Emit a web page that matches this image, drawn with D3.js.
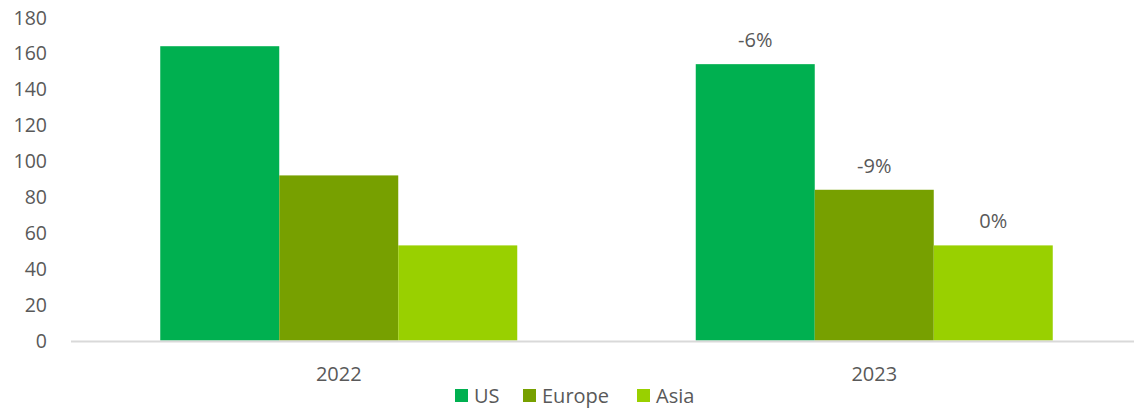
<!DOCTYPE html>
<html>
<head>
<meta charset="utf-8">
<script src="https://cdn.jsdelivr.net/npm/d3@7"></script>
<style>
  body { margin: 0; background: #fff; }
  text { font-family: "Open Sans", sans-serif; fill: #595959; }
</style>
</head>
<body>
<div class="chart"></div>
<script>
// data
const years = ['2022', '2023'];
const regions = ['US', 'Europe', 'Asia'];
const usValues = [164, 154];
const europeValues = [92, 84];
const asiaValues = [53, 53];
const changeLabels = [null, ['-6%', '-9%', '0%']];
const yTicks = [0, 20, 40, 60, 80, 100, 120, 140, 160, 180];
const colors = ['#00b050', '#77a000', '#99d000'];

const series = [usValues, europeValues, asiaValues];

const svg_width = 1134;
const svg_height = 408;
const margin = {top: 17, left: 71, bottom: 67};
const plot_right = 1142; // axis runs past the crop edge

const svg = d3.select('.chart').append('svg')
  .attr('width', svg_width).attr('height', svg_height);

const xScale = d3.scaleBand().domain(years)
  .range([margin.left, plot_right]).paddingInner(0).paddingOuter(0);
const xInner = d3.scaleBand().domain(regions)
  .range([0, xScale.bandwidth()]).paddingOuter(0.75).paddingInner(0);
const yScale = d3.scaleLinear().domain([0, 180])
  .range([svg_height - margin.bottom - 0.5, margin.top + 0.5]);

// y tick labels
svg.append('g').selectAll('text').data(yTicks).join('text')
  .attr('x', 47).attr('y', d => yScale(d))
  .attr('dy', '0.36em').attr('text-anchor', 'end')
  .style('font-size', '19.5px')
  .text(d => d);

// bars
const groups = svg.append('g').selectAll('g').data(years).join('g')
  .attr('transform', d => `translate(${xScale(d)},0)`);

groups.selectAll('rect')
  .data((y, yi) => regions.map((r, ri) => ({r, ri, yi, v: series[ri][yi]})))
  .join('rect')
  .attr('x', d => xInner(d.r))
  .attr('width', xInner.bandwidth())
  .attr('y', d => yScale(d.v))
  .attr('height', d => yScale(0) - yScale(d.v))
  .style('fill', d => colors[d.ri]);

// change labels
groups.selectAll('text.chg')
  .data((y, yi) => changeLabels[yi] ? regions.map((r, ri) => ({r, ri, yi, v: series[ri][yi], t: changeLabels[yi][ri]})) : [])
  .join('text').attr('class', 'chg')
  .attr('x', d => xInner(d.r) + xInner.bandwidth() / 2)
  .attr('y', d => yScale(d.v) - 17)
  .attr('text-anchor', 'middle')
  .style('font-size', '20px')
  .text(d => d.t);

// x axis line
svg.append('line')
  .attr('x1', margin.left).attr('x2', plot_right)
  .attr('y1', yScale(0) + 1).attr('y2', yScale(0) + 1)
  .style('stroke', '#d9d9d9').style('stroke-width', 2);

// x labels
svg.append('g').selectAll('text').data(years).join('text')
  .attr('x', d => xScale(d) + xScale.bandwidth() / 2)
  .attr('y', 381).attr('text-anchor', 'middle')
  .style('font-size', '20px')
  .text(d => d);

// legend
const legendX = [455, 523, 637];
const legend = svg.append('g').selectAll('g').data(regions).join('g')
  .attr('transform', (d, i) => `translate(${legendX[i]},389)`);
legend.append('rect').attr('width', 13).attr('height', 13)
  .style('fill', (d, i) => colors[i]);
legend.append('text').attr('x', 19).attr('y', 13.5)
  .style('font-size', '20px')
  .text(d => d);
</script>
</body>
</html>
